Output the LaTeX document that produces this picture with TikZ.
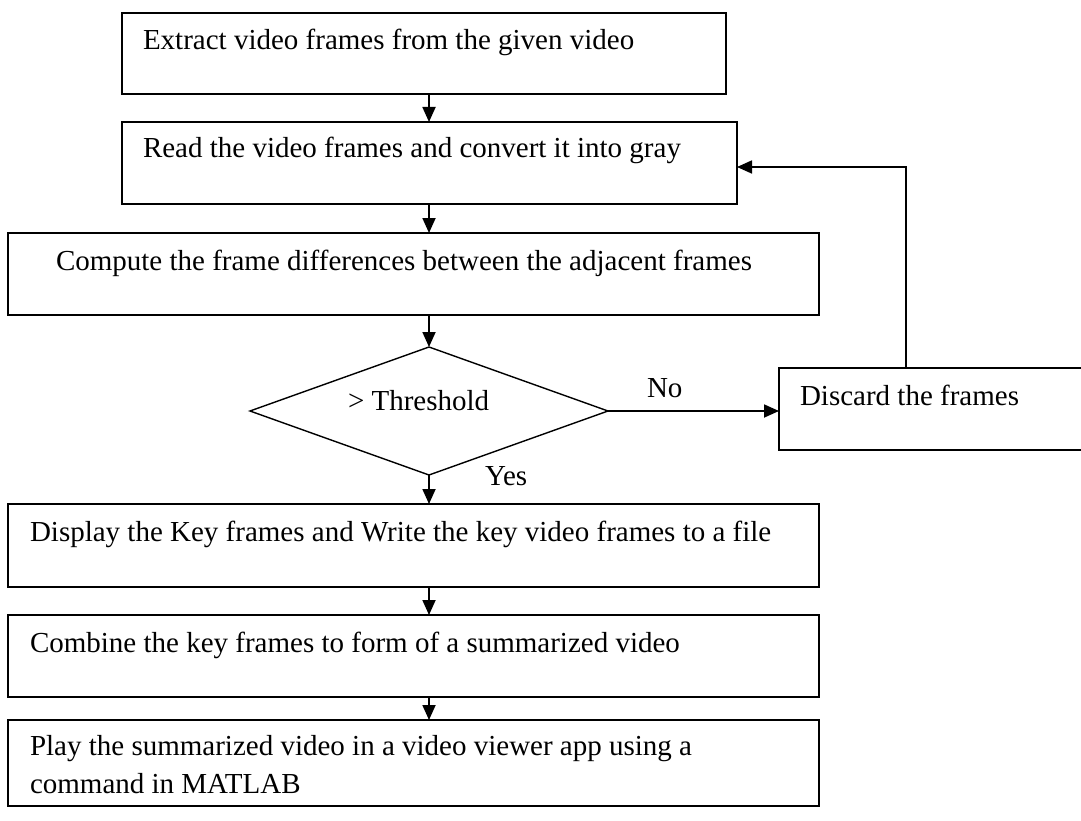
\documentclass[tikz,border=0pt]{standalone}
\usepackage{fontspec}
\setmainfont{Liberation Serif}
\usetikzlibrary{arrows.meta,shapes.geometric}
\tikzset{
  boxnode/.style={draw, line width=1.4pt, rectangle, inner sep=0pt, outer sep=0pt, anchor=north west},
  decnode/.style={draw, line width=1.4pt, diamond, inner sep=0pt, outer sep=0pt, minimum width=358pt, minimum height=128pt},
  lbl/.style={anchor=base west, inner sep=0pt, outer sep=0pt, font=\fontsize{29}{38}\selectfont},
  arr/.style={line width=1.8pt, -{Triangle[length=15pt,width=13pt]}},
  lnk/.style={line width=1.8pt}
}
\begin{document}
\begin{tikzpicture}[x=1pt,y=1pt]
\useasboundingbox (0,0) rectangle (1081,-821);
\clip (0,0) rectangle (1081,-821);
\fill[white] (0,0) rectangle (1081,-821);
% boxes
\node[boxnode, minimum width=604pt, minimum height=81pt] (b1) at (122,-13) {};
\node[boxnode, minimum width=615pt, minimum height=82pt] (b2) at (122,-122) {};
\node[boxnode, minimum width=811pt, minimum height=82pt] (b3) at (8,-233) {};
\node[decnode] (d) at (429,-411) {};
\node[boxnode, minimum width=316pt, minimum height=82pt] (dis) at (779,-368) {};
\node[boxnode, minimum width=811pt, minimum height=83pt] (b4) at (8,-504) {};
\node[boxnode, minimum width=811pt, minimum height=82pt] (b5) at (8,-615) {};
\node[boxnode, minimum width=811pt, minimum height=86pt] (b6) at (8,-720) {};
% texts
\node[lbl] (t1) at (143,-50) {Extract video frames from the given video};
\node[lbl] (t2) at (143,-158) {Read the video frames and convert it into gray};
\node[lbl] (t3) at (56,-270) {Compute the frame differences between the adjacent frames};
\node[lbl] (thr) at (348,-410) {> Threshold};
\node[lbl] (tdis) at (800,-405) {Discard the frames};
\node[lbl] (tno) at (647,-397) {No};
\node[lbl] (tyes) at (485,-485) {Yes};
\node[lbl] (t4) at (30,-541) {Display the Key frames and Write the key video frames to a file};
\node[lbl] (t5) at (30,-652) {Combine the key frames to form of a summarized video};
\node[lbl, align=left, anchor=north west] (t6) at (30,-735) {Play the summarized video in a video viewer app using a\\command in MATLAB};
% connectors
\draw[arr] (b1.south -| d.north) -- (b2.north -| d.north);
\draw[arr] (b2.south -| d.north) -- (b3.north -| d.north);
\draw[arr] (b3.south -| d.north) -- (d.north);
\draw[arr] (d.south) -- (b4.north -| d.south);
\draw[arr] (b4.south -| d.south) -- (b5.north -| d.south);
\draw[arr] (b5.south -| d.south) -- (b6.north -| d.south);
\draw[arr] (d.east) -- (dis.west |- d.east);
\coordinate (lp) at (906,-167);
\draw[arr] (dis.north -| lp) -- (lp) -- (b2.east |- lp);
\end{tikzpicture}
\end{document}
